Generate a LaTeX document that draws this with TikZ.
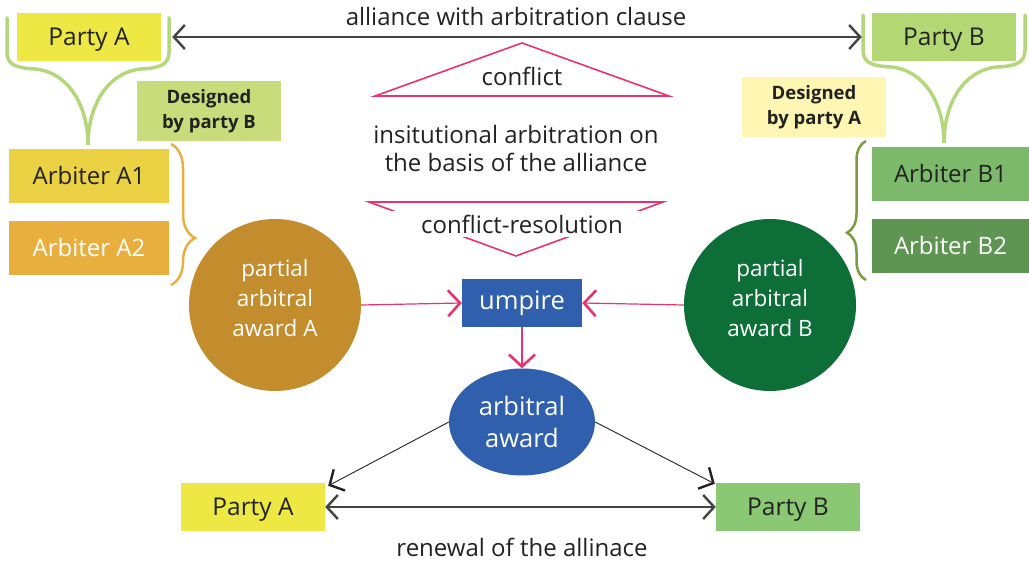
\documentclass[tikz,border=0pt]{standalone}
\usepackage{fontspec}
\setmainfont{Open Sans}
\usetikzlibrary{arrows.meta,decorations.pathreplacing,shapes.geometric}
\definecolor{ink}{HTML}{222222}
\definecolor{partyA}{HTML}{EDE843}
\definecolor{partyBtop}{HTML}{B3D873}
\definecolor{partyBbot}{HTML}{8BC874}
\definecolor{lightgreen}{HTML}{B5D77B}
\definecolor{desB}{HTML}{C9DC7B}
\definecolor{desA}{HTML}{FEF6B2}
\definecolor{arbAone}{HTML}{EBD244}
\definecolor{arbAtwo}{HTML}{E8AF3F}
\definecolor{orangebrace}{HTML}{E8B040}
\definecolor{awardA}{HTML}{C38C2D}
\definecolor{awardB}{HTML}{0E6E38}
\definecolor{umpblue}{HTML}{3060AD}
\definecolor{hotpink}{HTML}{E8336F}
\definecolor{arbBone}{HTML}{7DB96A}
\definecolor{arbBtwo}{HTML}{5F9553}
\definecolor{olive}{HTML}{7B9B40}
\tikzset{
  box/.style={rectangle, inner sep=0pt, minimum width=144pt, minimum height=48pt,
    text=ink, text height=17.5pt, text depth=0pt, font=\fontsize{24.5}{28}\selectfont},
  arbbox/.style={rectangle, inner sep=0pt, minimum width=160pt, minimum height=54pt,
    text height=17.1pt, text depth=0pt, font=\fontsize{24}{28}\selectfont},
  desbox/.style={rectangle, inner sep=0pt, minimum width=144pt, minimum height=60pt,
    text=ink, align=center, font=\fontsize{18.5}{25}\selectfont\bfseries},
  award/.style={circle, inner sep=0pt, minimum size=172pt, text=white, align=center,
    font=\fontsize{22.5}{30}\selectfont},
  plain/.style={text=ink, align=center, font=\fontsize{24}{28}\selectfont},
  blackarrow/.style={draw=ink!85, line width=1.4pt,
    arrows={Straight Barb[length=11pt,width=24pt,line width=2.4pt]-Straight Barb[length=11pt,width=24pt,line width=2.4pt]}},
  thinarrow/.style={draw=ink, line width=0.9pt,
    -{Straight Barb[length=11pt,width=24pt,line width=2.4pt]}},
  pinkarrow/.style={draw=hotpink, line width=1.2pt,
    -{Straight Barb[length=12pt,width=26pt,line width=2.6pt]}},
  pinkline/.style={draw=hotpink, line width=1.6pt},
  splitbrace/.style={draw=lightgreen, line width=3.5pt, line cap=round},
}
\begin{document}
\begin{tikzpicture}[x=1pt,y=-1pt]
\useasboundingbox (0,0) rectangle (1029,561);

% parties at the top with their green forks
\draw[splitbrace] (7,18) -- (7,52) .. controls (7,66) and (18,68) .. (35,69)
  .. controls (68,72) and (88,105) .. (88,145)
  .. controls (88,105) and (108,72) .. (141,69)
  .. controls (158,68) and (169,66) .. (169,52) -- (169,18);
\draw[splitbrace] (863,15) -- (863,50) .. controls (863,64) and (874,66) .. (891,67)
  .. controls (924,70) and (944,103) .. (944,143)
  .. controls (944,103) and (964,70) .. (997,67)
  .. controls (1014,66) and (1025,64) .. (1025,50) -- (1025,15);

\node[box, fill=partyA] (pAtop) at (89,37) {Party A};
\node[box, fill=partyBtop] (pBtop) at (944,37) {Party B};
\node[plain] (alliance) at (516,17) {alliance with arbitration clause};
\draw[blackarrow, shorten <=11pt, shorten >=10pt] (pAtop.east) -- (pBtop.west);

% who designates whom
\node[desbox, fill=desB] (desB) at (209,111) {Designed\\by party B};
\node[desbox, fill=desA] (desA) at (814,107) {Designed\\by party A};

% arbiters
\node[arbbox, fill=arbAone, text=ink] (arbA1) at (89,176) {Arbiter A1};
\node[arbbox, fill=arbAtwo, text=white] (arbA2) at (89,248) {Arbiter A2};
\node[arbbox, minimum width=157pt, fill=arbBone, text=ink] (arbB1) at (950.5,174) {Arbiter B1};
\node[arbbox, minimum width=157pt, fill=arbBtwo, text=white] (arbB2) at (950.5,246) {Arbiter B2};

\coordinate (braceAtop) at (171,144);
\coordinate (braceAbot) at (171,285);
\coordinate (braceBbot) at (866,280);
\coordinate (braceBtop) at (866,141);
\draw[orangebrace, line width=2.5pt, decorate,
  decoration={brace, amplitude=24pt, aspect=0.667}] (braceAtop) -- (braceAbot);
\draw[olive, line width=2.5pt, decorate,
  decoration={brace, amplitude=19pt, aspect=0.34}] (braceBbot) -- (braceBtop);

% conflict and its resolution
\draw[pinkline] (375,96) -- (522,43) -- (669,96) -- cycle;
\node[plain] (conflict) at (522,76) {conflict};
\node[plain] (basis) at (516,149) {insitutional arbitration on\\the basis of the alliance};
\draw[pinkline] (369,202) -- (663,202) -- (516,256) -- cycle;
\node[plain, fill=white, minimum width=300pt, minimum height=26pt, inner sep=0pt]
  (resolution) at (522,224) {conflict-resolution};

% partial awards and the umpire (text sits a little above the centre)
\node[award, fill=awardA] (awA) at (275,305) {partial\\arbitral\\award A\\[-16pt]~};
\node[award, fill=awardB] (awB) at (770,305) {partial\\arbitral\\award B\\[-16pt]~};
\node[rectangle, fill=umpblue, inner sep=0pt, minimum width=120pt, minimum height=48pt,
  text=white, text height=13.6pt, text depth=0pt, font=\fontsize{25.5}{28}\selectfont]
  (umpire) at (522,303) {umpire};
\node[ellipse, fill=umpblue, inner sep=0pt, minimum width=146pt, minimum height=107pt,
  text=white, align=center, font=\fontsize{25.5}{32}\selectfont] (final) at (522,422)
  {arbitral\\award};

\draw[pinkarrow] (awA.east) -- (umpire.west);
\draw[pinkarrow] (awB.west) -- (umpire.east);
\draw[pinkarrow] (umpire.south) -- (final.north);

% parties after the award
\node[box, fill=partyA] (pAbot) at (253,507) {Party A};
\node[box, fill=partyBbot] (pBbot) at (788,507) {Party B};
\draw[thinarrow] (final.west) -- ([xshift=3pt,yshift=-3pt]pAbot.north east);
\draw[thinarrow] (final.east) -- ([xshift=-1pt,yshift=-1pt]pBbot.north west);
\draw[blackarrow] (pAbot.east) -- (pBbot.west);
\node[plain] (renewal) at (522,547) {renewal of the allinace};
\end{tikzpicture}
\end{document}
